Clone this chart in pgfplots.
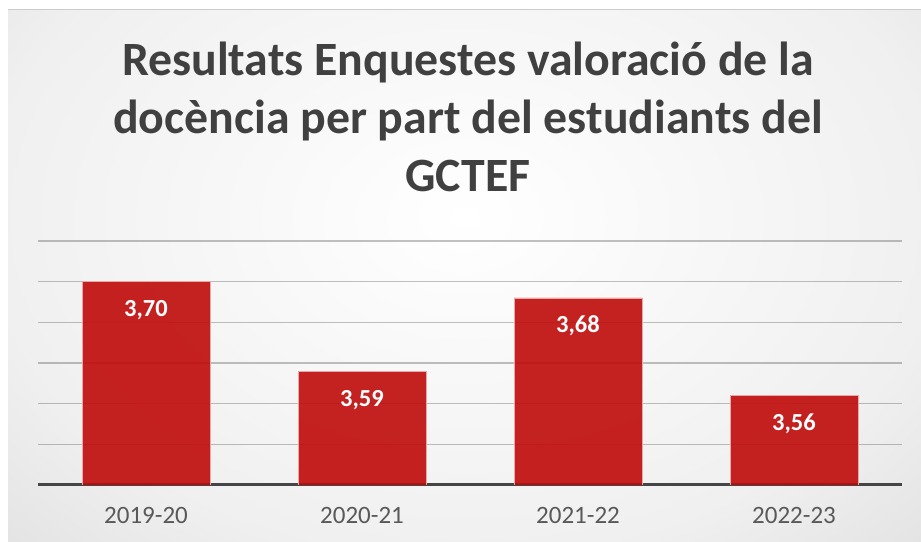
\documentclass[border=0pt]{standalone}
\usepackage{fontspec}
\setmainfont{Carlito}
\usepackage{pgfplots}
\pgfplotsset{compat=1.18}
\definecolor{titlegray}{HTML}{404040}
\definecolor{ticklab}{HTML}{595959}
\definecolor{barred}{HTML}{BF0A0A}
\definecolor{axc}{HTML}{454545}
\pgfdeclareradialshading{bgshade}{\pgfpoint{0bp}{0bp}}{color(0bp)=(white); color(12.5bp)=(black!6); color(20bp)=(black!14); color(25bp)=(black!24); color(50bp)=(black!24)}
\begin{document}
\begin{tikzpicture}[x=1bp,y=1bp]
\useasboundingbox (0,0) rectangle (921,542);
\fill[white] (0,0) rectangle (921,542);
\begin{scope}
\clip (8,0) rectangle (921,532);
\shade[shading=bgshade] (-495,-355) rectangle (1425,1005);
\end{scope}
\draw[black!20, line width=1bp] (8,532.5) -- (921,532.5);
\node[anchor=base, text=titlegray, font=\bfseries\fontsize{47.8bp}{56bp}\selectfont] at (468,466) {Resultats Enquestes valoració de la};
\node[anchor=base, text=titlegray, font=\bfseries\fontsize{47.8bp}{56bp}\selectfont] at (468,408) {docència per part del estudiants del};
\node[anchor=base, text=titlegray, font=\bfseries\fontsize{47.8bp}{56bp}\selectfont] at (468,350) {GCTEF};
\begin{axis}[
  at={(38bp,57bp)}, anchor=south west,
  scale only axis, width=864bp, height=244bp,
  xmin=-0.5, xmax=3.5, ymin=3.45, ymax=3.75,
  axis x line=bottom, axis y line=left,
  x axis line style={-, draw=axc, line width=3bp},
  y axis line style={draw=none},
  xtick=data, xticklabels={2019-20,2020-21,2021-22,2022-23},
  xtick style={draw=none}, ytick style={draw=none},
  xticklabel style={text=ticklab, font=\fontsize{25bp}{30bp}\selectfont, yshift=-15bp},
  ytick={3.50,3.55,3.60,3.65,3.70,3.75},
  ymajorgrids, grid style={black, draw opacity=0.24, line width=1.5bp},
  yticklabels={},
  ybar, bar width=128bp,
  nodes near coords,
  every node near coord/.append style={anchor=base, yshift=-35bp, text=white, font=\bfseries\fontsize{24.5bp}{28bp}\selectfont},
  /pgf/number format/.cd, use comma, fixed, fixed zerofill, precision=2, assume math mode=true,
]
\addplot[fill=barred, fill opacity=0.9, draw=white!65!barred, line width=0.8bp, text opacity=1] coordinates {(0,3.70) (1,3.59) (2,3.68) (3,3.56)};
\end{axis}
\end{tikzpicture}
\end{document}
